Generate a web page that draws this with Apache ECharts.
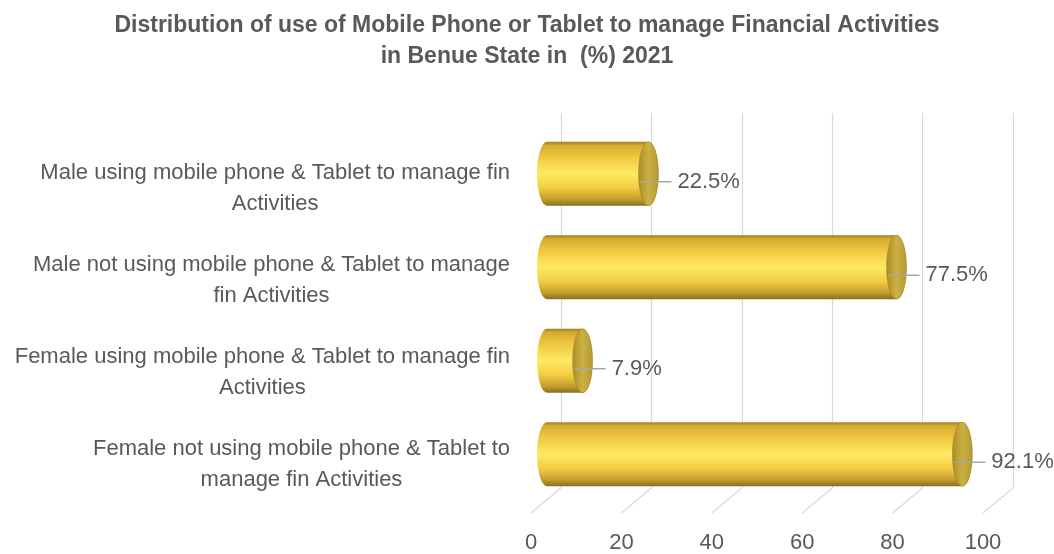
<!DOCTYPE html>
<html>
<head>
<meta charset="utf-8">
<script src="https://cdn.jsdelivr.net/npm/echarts@6.0.0/dist/echarts.min.js"></script>
<style>
  html, body { margin: 0; padding: 0; background: #ffffff; }
  #chart { width: 1054px; height: 554px; }
</style>
</head>
<body>
<div id="chart"></div>
<script>
// ---- data ----
const titleText = 'Distribution of use of Mobile Phone or Tablet to manage Financial Activities\nin Benue State in  (%) 2021';
const categories = [
  'Male using mobile phone & Tablet to manage fin\nActivities',
  'Male not using mobile phone & Tablet to manage\nfin Activities',
  'Female using mobile phone & Tablet to manage fin\nActivities',
  'Female not using mobile phone & Tablet to\nmanage fin Activities'
];
const values = [22.5, 77.5, 7.9, 92.1];
const tickValues = [0, 20, 40, 60, 80, 100];

// ---- styles ----
const FONT = '"Liberation Sans", Arial, sans-serif';
const TXT = '#595959';
const GRID = '#d9d9d9';

const chart = echarts.init(document.getElementById('chart'), null, { renderer: 'canvas' });

const bodyGradient = new echarts.graphic.LinearGradient(0, 0, 0, 1, [
  { offset: 0, color: '#a07f1c' },
  { offset: 0.06, color: '#d6ac30' },
  { offset: 0.25, color: '#f1c841' },
  { offset: 0.5, color: '#ffea63' },
  { offset: 0.72, color: '#f3cd42' },
  { offset: 0.9, color: '#c49c2c' },
  { offset: 1, color: '#86701e' }
]);
const capGradient = new echarts.graphic.LinearGradient(0, 0, 1, 0, [
  { offset: 0, color: '#a88d26' },
  { offset: 0.5, color: '#cbb143' },
  { offset: 1, color: '#b39832' }
]);

function cylinder(params, api) {
  const v = api.value(0);
  const idx = api.value(1);
  const p0 = api.coord([0, idx]);
  const p1 = api.coord([v, idx]);
  const band = api.size([0, 1])[1];
  const ry = band * 0.685 / 2;
  const rx = 10;
  const cy = p0[1];
  const top = cy - ry, bot = cy + ry;
  const body = 'M' + p0[0] + ' ' + top + ' L' + p1[0] + ' ' + top +
    ' A' + rx + ' ' + ry + ' 0 0 1 ' + p1[0] + ' ' + bot +
    ' L' + p0[0] + ' ' + bot +
    ' A' + rx + ' ' + ry + ' 0 0 1 ' + p0[0] + ' ' + top + ' Z';
  const cap = 'M' + p1[0] + ' ' + top +
    ' A' + rx + ' ' + ry + ' 0 0 1 ' + p1[0] + ' ' + bot +
    ' A' + rx + ' ' + ry + ' 0 0 1 ' + p1[0] + ' ' + top + ' Z';
  const ly = cy + 8;
  return {
    type: 'group',
    children: [
      { type: 'path', shape: { pathData: body }, style: { fill: bodyGradient } },
      { type: 'path', shape: { pathData: cap }, style: { fill: capGradient, stroke: 'rgba(140,110,20,0.35)', lineWidth: 1 } },
      { type: 'line', shape: { x1: p1[0] - 8, y1: ly, x2: p1[0] + 23, y2: ly }, style: { stroke: '#a6a6a6', lineWidth: 1.5 } },
      { type: 'text', style: { text: v.toFixed(1) + '%', x: p1[0] + 29, y: ly, verticalAlign: 'middle', align: 'left', fill: TXT, font: '22px ' + FONT } }
    ]
  };
}

function floorLine(params, api) {
  const p = api.coord([api.value(0), 0]);
  return { type: 'line', shape: { x1: p[0], y1: p[1], x2: p[0] - 30, y2: p[1] + 25 }, style: { stroke: GRID, lineWidth: 1.2 } };
}

chart.setOption({
  animation: false,
  backgroundColor: '#ffffff',
  title: {
    text: titleText,
    left: 'center',
    top: 5,
    textStyle: { color: TXT, fontSize: 23, fontWeight: 'bold', fontFamily: FONT, lineHeight: 31 }
  },
  grid: [
    { left: 561, top: 113, width: 452, height: 375 },   // back wall
    { left: 531, top: 143, width: 452, height: 370 },   // front (labels)
    { left: 547, top: 127, width: 451, height: 374 }    // bars (mid depth)
  ],
  xAxis: [
    { gridIndex: 0, type: 'value', min: 0, max: 100, interval: 20,
      axisLine: { show: false }, axisTick: { show: false }, axisLabel: { show: false },
      splitLine: { show: true, lineStyle: { color: GRID, width: 1.2 } } },
    { gridIndex: 1, type: 'value', min: 0, max: 100, interval: 20,
      axisLine: { show: false }, axisTick: { show: false }, splitLine: { show: false },
      axisLabel: { show: true, margin: 22, color: TXT, fontSize: 22, fontFamily: FONT,
        formatter: function (v) { return tickValues.indexOf(v) >= 0 ? String(v) : ''; } } },
    { gridIndex: 2, type: 'value', min: 0, max: 100, show: false }
  ],
  yAxis: [
    { gridIndex: 0, type: 'value', min: 0, max: 1, show: false },
    { gridIndex: 1, type: 'category', data: categories, inverse: true,
      axisLine: { show: false }, axisTick: { show: false }, splitLine: { show: false },
      axisLabel: { margin: 21, color: TXT,
        formatter: function (v) { return v.split('\n').map(function (s) { return '{a|' + s + '}'; }).join('\n'); },
        rich: { a: { align: 'center', fontSize: 22, lineHeight: 31, color: TXT, fontFamily: FONT } } } },
    { gridIndex: 2, type: 'category', data: categories, inverse: true, show: false }
  ],
  series: [
    { type: 'custom', xAxisIndex: 0, yAxisIndex: 0, renderItem: floorLine, data: tickValues.map(function (t) { return [t]; }), silent: true, z: 1 },
    { type: 'custom', xAxisIndex: 2, yAxisIndex: 2, renderItem: cylinder,
      data: values.map(function (v, i) { return [v, i]; }), z: 5 }
  ]
});
</script>
</body>
</html>
